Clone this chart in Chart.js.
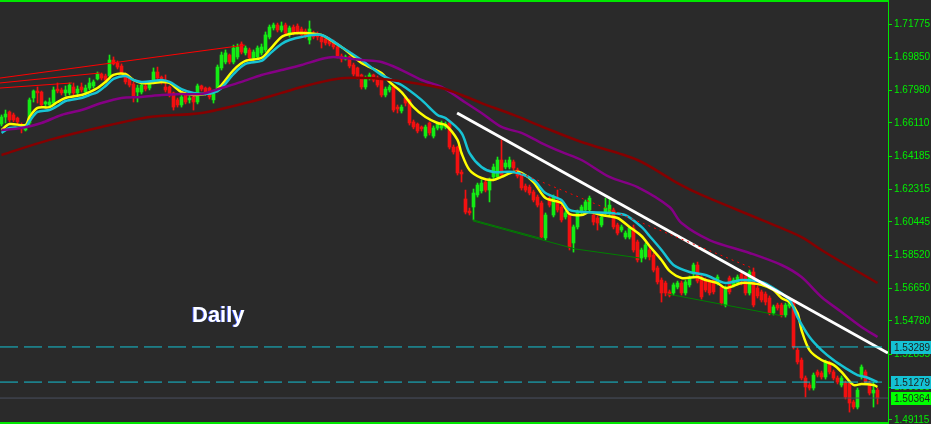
<!DOCTYPE html>
<html>
<head>
<meta charset="utf-8">
<title>Daily</title>
<script src="https://cdn.jsdelivr.net/npm/chart.js@4.4.1/dist/chart.umd.min.js"></script>
<style>
  html, body { margin: 0; padding: 0; background: #2a2a2a; }
  #wrap { width: 931px; height: 424px; position: relative; }
</style>
</head>
<body>
<div id="wrap"><canvas id="chart"></canvas></div>
<script>
// daily candles, oldest first
const opens = [
  1.6605,1.6645,1.6674,1.6657,1.6639,1.6599,1.6571,1.6611,1.6754,1.6794,1.6788,1.6720,1.6714,1.6725,1.6805,1.6800,1.6783,1.6783,1.6817,1.6783,
  1.6817,1.6788,1.6811,1.6823,1.6863,1.6891,1.6880,1.6880,1.6971,1.6954,1.6937,1.6886,1.6868,1.6834,1.6788,1.6788,1.6823,1.6811,1.6857,1.6903,
  1.6874,1.6817,1.6817,1.6783,1.6743,1.6714,1.6771,1.6743,1.6760,1.6731,1.6823,1.6811,1.6811,1.6743,1.6800,1.6926,1.6960,1.7000,1.6960,1.6989,
  1.7063,1.7012,1.7029,1.6983,1.6989,1.7012,1.7029,1.7103,1.7155,1.7172,1.7143,1.7172,1.7115,1.7160,1.7166,1.7149,1.7137,1.7086,1.7126,1.7120,
  1.7103,1.7092,1.7086,1.7075,1.7046,1.6994,1.6977,1.6989,1.6943,1.6926,1.6886,1.6817,1.6868,1.6886,1.6868,1.6857,1.6771,1.6800,1.6817,1.6702,
  1.6680,1.6754,1.6743,1.6617,1.6605,1.6588,1.6536,1.6611,1.6536,1.6582,1.6582,1.6588,1.6611,1.6473,1.6473,1.6330,1.6176,1.6107,1.6130,1.6199,
  1.6222,1.6273,1.6227,1.6302,1.6302,1.6399,1.6359,1.6359,1.6388,1.6342,1.6313,1.6250,1.6244,1.6216,1.6187,1.6153,1.5953,1.6181,1.6084,1.6170,
  1.6130,1.6073,1.6084,1.5924,1.6016,1.6101,1.6113,1.6113,1.6084,1.6067,1.6027,1.6096,1.6101,1.6113,1.6027,1.5998,1.5958,1.5958,1.6010,1.5930,
  1.5838,1.5844,1.5884,1.5855,1.5781,1.5712,1.5695,1.5644,1.5638,1.5672,1.5695,1.5638,1.5684,1.5747,1.5798,1.5729,1.5712,1.5701,1.5712,1.5695,
  1.5672,1.5569,1.5724,1.5684,1.5695,1.5747,1.5735,1.5638,1.5758,1.5666,1.5644,1.5632,1.5609,1.5523,1.5569,1.5569,1.5512,1.5563,1.5586,1.5311,
  1.5254,1.5151,1.5111,1.5094,1.5186,1.5180,1.5157,1.5237,1.5186,1.5151,1.5111,1.5123,1.5123,1.5014,1.4985,1.5157,1.5186,1.5123,1.5065,1.5082
];
const highs = [
  1.6657,1.6685,1.6680,1.6668,1.6645,1.6611,1.6605,1.6754,1.6800,1.6817,1.6794,1.6737,1.6754,1.6817,1.6840,1.6811,1.6823,1.6840,1.6840,1.6823,
  1.6840,1.6828,1.6868,1.6857,1.6903,1.6897,1.6891,1.7000,1.6989,1.6966,1.6949,1.6897,1.6880,1.6846,1.6828,1.6840,1.6834,1.6846,1.6926,1.6931,
  1.6880,1.6886,1.6823,1.6788,1.6754,1.6771,1.6783,1.6765,1.6771,1.6834,1.6828,1.6817,1.6817,1.6788,1.6943,1.7017,1.7029,1.7006,1.7057,1.7063,
  1.7075,1.7052,1.7040,1.7029,1.7052,1.7063,1.7132,1.7172,1.7183,1.7183,1.7189,1.7183,1.7166,1.7172,1.7178,1.7160,1.7149,1.7195,1.7137,1.7132,
  1.7115,1.7097,1.7097,1.7086,1.7052,1.7006,1.7000,1.6994,1.6954,1.6931,1.6891,1.6880,1.6897,1.6891,1.6880,1.6863,1.6817,1.6828,1.6823,1.6714,
  1.6714,1.6765,1.6748,1.6628,1.6611,1.6594,1.6599,1.6617,1.6594,1.6617,1.6622,1.6617,1.6622,1.6485,1.6479,1.6342,1.6227,1.6124,1.6233,1.6267,
  1.6285,1.6285,1.6296,1.6376,1.6416,1.6514,1.6399,1.6416,1.6399,1.6353,1.6325,1.6262,1.6256,1.6227,1.6199,1.6164,1.6096,1.6193,1.6199,1.6227,
  1.6141,1.6107,1.6096,1.6027,1.6113,1.6141,1.6170,1.6193,1.6096,1.6079,1.6084,1.6181,1.6181,1.6124,1.6038,1.6027,1.5993,1.6021,1.6027,1.5941,
  1.5895,1.5924,1.5901,1.5867,1.5792,1.5724,1.5706,1.5655,1.5695,1.5706,1.5706,1.5712,1.5735,1.5809,1.5815,1.5741,1.5724,1.5712,1.5724,1.5741,
  1.5684,1.5678,1.5735,1.5724,1.5741,1.5758,1.5747,1.5769,1.5781,1.5678,1.5655,1.5644,1.5621,1.5569,1.5580,1.5580,1.5580,1.5598,1.5598,1.5323,
  1.5266,1.5163,1.5123,1.5180,1.5197,1.5191,1.5254,1.5248,1.5197,1.5163,1.5163,1.5134,1.5134,1.5025,1.5094,1.5226,1.5197,1.5134,1.5128,1.5094
];
const lows = [
  1.6594,1.6611,1.6617,1.6617,1.6605,1.6554,1.6565,1.6599,1.6731,1.6725,1.6708,1.6697,1.6702,1.6720,1.6783,1.6771,1.6765,1.6771,1.6771,1.6771,
  1.6788,1.6777,1.6800,1.6811,1.6857,1.6857,1.6846,1.6874,1.6943,1.6920,1.6891,1.6834,1.6817,1.6731,1.6731,1.6777,1.6794,1.6800,1.6840,1.6857,
  1.6834,1.6788,1.6760,1.6685,1.6702,1.6702,1.6720,1.6725,1.6685,1.6720,1.6794,1.6771,1.6748,1.6725,1.6788,1.6914,1.6949,1.6949,1.6949,1.6977,
  1.7006,1.7000,1.6971,1.6971,1.6977,1.7000,1.7017,1.7092,1.7143,1.7132,1.7132,1.7115,1.7103,1.7115,1.7120,1.7103,1.7097,1.7063,1.7092,1.7086,
  1.7040,1.7057,1.7052,1.7034,1.6983,1.6960,1.6971,1.6926,1.6880,1.6863,1.6805,1.6805,1.6857,1.6846,1.6817,1.6760,1.6760,1.6788,1.6674,1.6668,
  1.6668,1.6708,1.6599,1.6577,1.6554,1.6565,1.6525,1.6542,1.6525,1.6571,1.6571,1.6577,1.6462,1.6433,1.6313,1.6273,1.6090,1.6084,1.6056,1.6187,
  1.6210,1.6216,1.6159,1.6290,1.6290,1.6302,1.6348,1.6348,1.6342,1.6296,1.6227,1.6216,1.6199,1.6159,1.6130,1.5947,1.5941,1.6130,1.6073,1.6101,
  1.6044,1.6061,1.5884,1.5872,1.6004,1.6084,1.6101,1.6096,1.6027,1.5998,1.6016,1.6084,1.6084,1.6004,1.5970,1.5987,1.5947,1.5947,1.5872,1.5815,
  1.5815,1.5832,1.5827,1.5758,1.5689,1.5586,1.5621,1.5615,1.5626,1.5661,1.5626,1.5626,1.5672,1.5735,1.5695,1.5603,1.5644,1.5626,1.5632,1.5684,
  1.5569,1.5558,1.5632,1.5672,1.5684,1.5684,1.5626,1.5626,1.5558,1.5609,1.5586,1.5569,1.5512,1.5512,1.5540,1.5500,1.5500,1.5552,1.5317,1.5231,
  1.5140,1.5042,1.5082,1.5082,1.5157,1.5145,1.5145,1.5174,1.5140,1.5117,1.5100,1.5031,1.4956,1.4974,1.4974,1.5145,1.5117,1.5054,1.4985,1.5002
];
const closes = [
  1.6645,1.6662,1.6628,1.6628,1.6617,1.6577,1.6599,1.6743,1.6794,1.6783,1.6714,1.6731,1.6731,1.6800,1.6794,1.6783,1.6800,1.6828,1.6783,1.6805,
  1.6800,1.6811,1.6840,1.6846,1.6891,1.6868,1.6857,1.6971,1.6949,1.6931,1.6897,1.6846,1.6828,1.6760,1.6811,1.6828,1.6805,1.6834,1.6903,1.6868,
  1.6846,1.6800,1.6771,1.6702,1.6714,1.6760,1.6731,1.6754,1.6731,1.6823,1.6805,1.6788,1.6760,1.6777,1.6931,1.7000,1.7012,1.6960,1.7040,1.7046,
  1.7017,1.7040,1.6983,1.7017,1.7040,1.7046,1.7115,1.7160,1.7172,1.7143,1.7166,1.7126,1.7155,1.7126,1.7132,1.7115,1.7109,1.7149,1.7103,1.7103,
  1.7075,1.7069,1.7063,1.7046,1.6994,1.6977,1.6989,1.6937,1.6891,1.6874,1.6817,1.6868,1.6886,1.6857,1.6828,1.6771,1.6805,1.6817,1.6685,1.6691,
  1.6702,1.6725,1.6611,1.6588,1.6565,1.6577,1.6588,1.6554,1.6582,1.6605,1.6611,1.6605,1.6473,1.6445,1.6325,1.6319,1.6101,1.6096,1.6210,1.6256,
  1.6267,1.6227,1.6285,1.6359,1.6399,1.6313,1.6382,1.6399,1.6353,1.6307,1.6239,1.6227,1.6210,1.6170,1.6141,1.5958,1.6084,1.6141,1.6187,1.6113,
  1.6056,1.6096,1.5901,1.6016,1.6101,1.6130,1.6159,1.6181,1.6044,1.6038,1.6073,1.6124,1.6141,1.6016,1.5981,1.6016,1.5981,1.6010,1.5884,1.5827,
  1.5884,1.5913,1.5844,1.5769,1.5701,1.5638,1.5638,1.5626,1.5684,1.5695,1.5638,1.5701,1.5724,1.5798,1.5706,1.5615,1.5655,1.5638,1.5644,1.5729,
  1.5580,1.5666,1.5644,1.5712,1.5729,1.5712,1.5638,1.5758,1.5569,1.5621,1.5598,1.5586,1.5523,1.5558,1.5552,1.5512,1.5569,1.5586,1.5329,1.5243,
  1.5151,1.5100,1.5094,1.5168,1.5168,1.5157,1.5243,1.5186,1.5151,1.5128,1.5151,1.5042,1.5008,1.4985,1.5082,1.5214,1.5128,1.5065,1.5082,1.5037
];

// moving averages: [candle, price]
const ma_yellow = [
  [0,1.6571],[2,1.6605],[6,1.6599],[7,1.6645],[9,1.6697],[12,1.6702],[14,1.6731],[16,1.6754],[20,1.6771],[22,1.6788],
  [24,1.6811],[26,1.6846],[28,1.6886],[31,1.6891],[33,1.6857],[35,1.6840],[38,1.6840],[40,1.6846],[42,1.6840],[45,1.6788],
  [48,1.6771],[51,1.6777],[53,1.6788],[55,1.6828],[58,1.6914],[61,1.6966],[65,1.6983],[67,1.7029],[70,1.7103],[72,1.7120],
  [75,1.7126],[80,1.7115],[83,1.7075],[86,1.7029],[90,1.6954],[95,1.6897],[97,1.6846],[100,1.6788],[103,1.6702],[106,1.6645],
  [109,1.6611],[111,1.6599],[114,1.6514],[115,1.6439],[117,1.6342],[120,1.6296],[123,1.6285],[125,1.6302],[128,1.6330],[130,1.6325],
  [133,1.6273],[136,1.6181],[140,1.6153],[142,1.6090],[145,1.6084],[147,1.6101],[150,1.6084],[154,1.6067],[157,1.6016],[160,1.5964],
  [162,1.5907],[165,1.5827],[167,1.5764],[170,1.5724],[174,1.5729],[176,1.5712],[179,1.5695],[181,1.5666],[185,1.5695],[187,1.5695],
  [190,1.5684],[193,1.5655],[195,1.5609],[197,1.5586],[199,1.5523],[200,1.5426],[202,1.5311],[205,1.5254],[208,1.5226],[210,1.5186],
  [213,1.5111],[215,1.5117],[218,1.5111],[219,1.5100]
];
const ma_cyan = [
  [0,1.6554],[2,1.6582],[6,1.6588],[7,1.6622],[9,1.6674],[12,1.6685],[14,1.6708],[16,1.6737],[20,1.6754],[22,1.6771],
  [24,1.6788],[26,1.6823],[28,1.6863],[31,1.6880],[33,1.6857],[35,1.6846],[38,1.6851],[40,1.6857],[42,1.6846],[45,1.6805],
  [48,1.6783],[51,1.6777],[53,1.6783],[55,1.6811],[58,1.6891],[61,1.6949],[65,1.6966],[67,1.7006],[70,1.7063],[72,1.7086],
  [75,1.7103],[80,1.7115],[85,1.7046],[90,1.6971],[95,1.6886],[100,1.6828],[105,1.6743],[109,1.6657],[111,1.6639],[115,1.6554],
  [117,1.6439],[120,1.6359],[123,1.6330],[128,1.6330],[133,1.6285],[136,1.6210],[140,1.6170],[142,1.6113],[146,1.6101],[152,1.6096],
  [156,1.6084],[160,1.6016],[162,1.5964],[165,1.5884],[168,1.5798],[172,1.5758],[176,1.5741],[181,1.5695],[185,1.5712],[190,1.5701],
  [193,1.5666],[197,1.5598],[199,1.5500],[202,1.5386],[205,1.5311],[208,1.5254],[211,1.5208],[214,1.5168],[216,1.5157],[219,1.5128]
];
const ma_purple = [
  [0,1.6571],[5,1.6582],[10,1.6611],[15,1.6657],[20,1.6685],[25,1.6725],[30,1.6754],[35,1.6760],[40,1.6771],[45,1.6777],
  [50,1.6777],[55,1.6811],[60,1.6846],[65,1.6886],[70,1.6914],[75,1.6943],[80,1.6977],[83,1.6989],[90,1.6971],[95,1.6960],
  [100,1.6914],[105,1.6857],[110,1.6817],[115,1.6743],[120,1.6668],[125,1.6588],[130,1.6554],[135,1.6496],[140,1.6445],[145,1.6399],
  [152,1.6302],[159,1.6244],[167,1.6130],[170,1.6038],[177,1.5941],[187,1.5867],[195,1.5798],[200,1.5729],[205,1.5615],[210,1.5529],
  [215,1.5443],[219,1.5386]
];
const ma_darkred = [
  [0,1.6428],[12,1.6514],[25,1.6588],[37,1.6645],[50,1.6668],[62,1.6731],[70,1.6783],[75,1.6817],[80,1.6846],[86,1.6868],
  [95,1.6863],[103,1.6840],[110,1.6811],[115,1.6771],[120,1.6725],[128,1.6657],[136,1.6582],[145,1.6502],[159,1.6399],[169,1.6267],
  [175,1.6199],[190,1.6056],[200,1.5958],[205,1.5884],[210,1.5815],[219,1.5695]
];

// drawn objects: [candle1, price1, candle2, price2]
const red_lines = [[-0.4,1.6868,60.9,1.7057],[-0.4,1.6840,24.6,1.6897],[-0.4,1.6811,17.6,1.6840]];
const white_line = [113.9,1.6668,221.6,1.5294];
const red_dashed = [128.4,1.6336,187.6,1.5781];
const green_lines = [[117.9,1.6056,135.4,1.5947],[117.9,1.6050,143.4,1.5890],[143.4,1.5890,159.6,1.5838],[166.6,1.5632,195.4,1.5506]];
const dashed_levels = [1.53289, 1.51279];
const bid_level = 1.50364;

const tick_values = [1.71775,1.69850,1.67980,1.66110,1.64185,1.62315,1.60445,1.58520,1.56650,1.54780,1.52855,1.50985,1.49115];
const price_boxes = [1.53289, 1.51279, 1.50364];
const box_colors = ['#14c2d4', '#14c2d4', '#00ff00'];

const BULL = '#14ec14';
const BEAR = '#f21010';
const X_MIN = -0.375;
const X_MAX = 221.625;

const idx = opens.map(function(v, i) { return i; });
const candle_colors = idx.map(function(i) { return closes[i] >= opens[i] ? BULL : BEAR; });

function segment(seg, color, width, dash) {
  return {
    type: 'line',
    data: [{x: seg[0], y: seg[1]}, {x: seg[2], y: seg[3]}],
    borderColor: color,
    borderWidth: width,
    borderDash: dash || [],
    pointRadius: 0,
    order: 1
  };
}

function ma_line(points, color) {
  return {
    type: 'line',
    data: points.map(function(p) { return {x: p[0], y: p[1]}; }),
    borderColor: color,
    borderWidth: 2.5,
    pointRadius: 0,
    tension: 0.3,
    order: 2
  };
}

const datasets = [
  {
    type: 'bar',
    data: idx.map(function(i) { return {x: i, y: [lows[i], highs[i]]}; }),
    backgroundColor: candle_colors,
    barThickness: 1,
    grouped: false,
    order: 4
  },
  {
    type: 'bar',
    data: idx.map(function(i) { return {x: i, y: [opens[i], closes[i]]}; }),
    backgroundColor: candle_colors,
    barThickness: 3,
    minBarLength: 1,
    grouped: false,
    order: 3
  },
  ma_line(ma_darkred, '#850000'),
  ma_line(ma_purple, '#850085'),
  ma_line(ma_cyan, '#17c3d4'),
  ma_line(ma_yellow, '#ffff00')
];
dashed_levels.forEach(function(v) {
  datasets.push(segment([X_MIN, v, X_MAX, v], '#14c2d4', 1, [18, 6]));
});
datasets.push(segment([X_MIN, bid_level, X_MAX, bid_level], '#4a5060', 1));
red_lines.forEach(function(s) { datasets.push(segment(s, '#ff0000', 1)); });
green_lines.forEach(function(s) { datasets.push(segment(s, '#008000', 1)); });
datasets.push(segment(red_dashed, '#ff0000', 1, [2, 4]));
datasets.push(segment(white_line, '#ffffff', 3));

const frame_plugin = {
  id: 'frame',
  afterDraw: function(chart) {
    const ctx = chart.ctx;
    const area = chart.chartArea;
    const y_scale = chart.scales.y;
    ctx.save();
    ctx.fillStyle = '#00e600';
    ctx.fillRect(0, 0, area.right + 1, 2);
    ctx.fillRect(0, area.bottom - 2, area.right + 1, 2);
    ctx.font = '10px "Liberation Sans"';
    ctx.textBaseline = 'middle';
    price_boxes.forEach(function(v, i) {
      const y = Math.round(y_scale.getPixelForValue(v));
      ctx.fillStyle = box_colors[i];
      ctx.fillRect(area.right + 3, y - 6, 42, 13);
      ctx.fillStyle = '#1e1e1e';
      ctx.fillText(v.toFixed(5), area.right + 6, y + 1);
    });
    ctx.font = 'bold 22px "Liberation Sans"';
    ctx.textBaseline = 'alphabetic';
    ctx.fillStyle = '#3050ff';
    ctx.fillText('Daily', 191, 322);
    ctx.fillStyle = '#ffffff';
    ctx.fillText('Daily', 192, 322);
    ctx.restore();
  }
};

new Chart('chart', {
  type: 'bar',
  data: { datasets: datasets },
  plugins: [frame_plugin],
  options: {
    responsive: true,
    maintainAspectRatio: false,
    animation: false,
    devicePixelRatio: 1,
    events: [],
    layout: { padding: 0 },
    plugins: { legend: { display: false }, tooltip: { enabled: false } },
    scales: {
      x: { type: 'linear', min: X_MIN, max: X_MAX, offset: false, display: false },
      y: {
        type: 'linear',
        position: 'right',
        min: 1.48879,
        max: 1.73149,
        beginAtZero: false,
        afterBuildTicks: function(axis) {
          axis.ticks = tick_values.map(function(v) { return {value: v}; });
        },
        afterFit: function(axis) {
          axis.width = 43;
          axis.paddingTop = 0;
          axis.paddingBottom = 0;
        },
        ticks: {
          color: '#00f000',
          font: { family: 'Liberation Sans', size: 10 },
          padding: 2,
          autoSkip: false,
          callback: function(v) { return Number(v).toFixed(5); }
        },
        grid: { drawOnChartArea: false, drawTicks: true, tickLength: 4, color: '#00e600' },
        border: { display: true, color: '#00e600', width: 1 }
      }
    }
  }
});
</script>
</body>
</html>
